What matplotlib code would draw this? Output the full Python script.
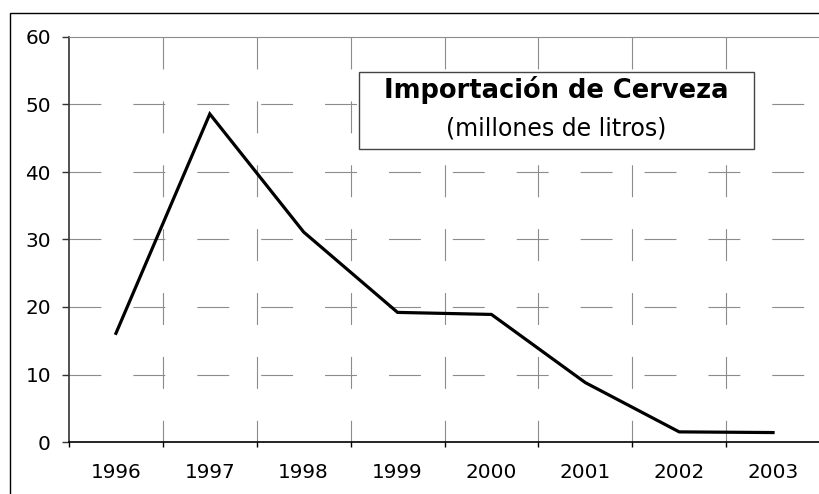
import numpy as np
import matplotlib
matplotlib.use('Agg')
import matplotlib.pyplot as plt
from matplotlib.patches import Rectangle

# Beer imports per year, millions of litres.
years = ['1996', '1997', '1998', '1999', '2000', '2001', '2002', '2003']
imports_ml = [16.1, 48.6, 31.1, 19.2, 18.9, 8.8, 1.5, 1.4]
y_ticks = [0, 10, 20, 30, 40, 50, 60]
title = 'Importación de Cerveza'
subtitle = '(millones de litros)'

plt.rcParams['font.family'] = ['DejaVu Sans']
plt.rcParams['lines.scale_dashes'] = False

W, H = 819, 494
fig = plt.figure(figsize=(W / 100, H / 100), dpi=100)
fig.patch.set_facecolor('white')

# Outer chart frame (runs off the right and bottom edges).
fig.add_artist(Rectangle((10 / W, -0.05), 1.2, 1 - 13 / H + 0.05, transform=fig.transFigure,
                         fill=False, edgecolor='black', linewidth=1.0))

ax = fig.add_axes([69 / W, 1 - 442 / H, (820 - 69) / W, (442 - 37) / H])
n = len(years)
x = np.arange(n)
ax.set_xlim(-0.5, n - 0.5)
ax.set_ylim(y_ticks[0], y_ticks[-1])

# Dashed grid: horizontal lines run left to right, vertical ones top to bottom.
grid_kw = dict(color='#8c8c8c', linewidth=0.8, linestyle=(0, (23, 23)), zorder=1)
for yv in y_ticks[1:-1]:
    ax.axhline(yv, xmin=0, xmax=1, **grid_kw)
for xb in np.arange(n - 1) + 0.5:
    ax.axvline(xb, ymin=1, ymax=0, **grid_kw)

ax.plot(x, imports_ml, color='black', linewidth=2.3, zorder=3, solid_joinstyle='miter')

ax.spines['right'].set_visible(False)
ax.spines['top'].set_color('#8c8c8c')
ax.spines['top'].set_linewidth(0.8)
ax.spines['left'].set_color('#333333')
ax.spines['left'].set_linewidth(1.2)
ax.spines['bottom'].set_color('black')
ax.spines['bottom'].set_linewidth(1.2)

ax.set_yticks(y_ticks)
ax.tick_params(axis='y', direction='out', length=5, width=1.0, color='#333333',
               labelsize=14.4, pad=8)
ax.set_xticks(np.arange(n + 1) - 0.5)
ax.set_xticklabels([])
ax.set_xticks(x, minor=True)
ax.set_xticklabels(years, minor=True)
ax.tick_params(axis='x', which='major', direction='out', length=3.8, width=1.0, color='black')
ax.tick_params(axis='x', which='minor', length=0, labelsize=14.4, pad=15)

# Title box.
bx0, bx1, by0, by1 = 359, 754, 72, 149
ax.add_patch(Rectangle((bx0 / W, 1 - by1 / H), (bx1 - bx0) / W, (by1 - by0) / H,
                       transform=fig.transFigure, facecolor='white', edgecolor='#444444',
                       linewidth=1.0, zorder=5, clip_on=False))
cx = (bx0 + bx1) / 2 / W
ax.text(cx, 1 - 97.5 / H, title, transform=fig.transFigure, ha='center', va='baseline',
        fontsize=18.5, fontweight='bold', zorder=6)
ax.text(cx, 1 - 135 / H, subtitle, transform=fig.transFigure, ha='center', va='baseline',
        fontsize=17, zorder=6)

fig.savefig('out.png', dpi=100)
